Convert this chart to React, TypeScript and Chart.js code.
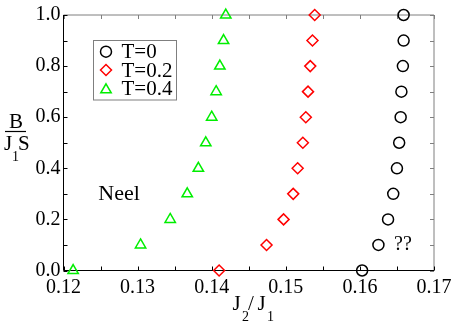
import React, { useEffect, useRef } from "react";
import { Chart, registerables } from "chart.js";

Chart.register(...registerables);

const yValues = [0, 0.1, 0.2, 0.3, 0.4, 0.5, 0.6, 0.7, 0.8, 0.9, 1.0];
const t0X = [0.1603, 0.1625, 0.1638, 0.1645, 0.165, 0.1653, 0.1655, 0.1656, 0.1658, 0.1659, 0.1659];
const t02X = [0.141, 0.1474, 0.1497, 0.151, 0.1516, 0.1523, 0.1527, 0.153, 0.1533, 0.1536, 0.1539];
const t04X = [0.1213, 0.1304, 0.1344, 0.1367, 0.1382, 0.1392, 0.14, 0.1406, 0.1411, 0.1416, 0.1419];

const seriesLabels = ["T=0", "T=0.2", "T=0.4"];
const seriesColors = ["#000000", "#ff0000", "#00ee00"];
const seriesStyles = ["circle", "rectRot", "triangle"];
const seriesRadius = [5.5, 5.5, 6];

const xTicks = [0.12, 0.13, 0.14, 0.15, 0.16, 0.17];
const yTicks = [0.0, 0.2, 0.4, 0.6, 0.8, 1.0];

const annotations = [
  { text: "Neel", x: 0.1275, y: 0.3, size: 22 },
  { text: "??", x: 0.1658, y: 0.1, size: 20 },
];

const SERIF = "'Liberation Serif', 'Times New Roman', serif";

function drawMarker(ctx: CanvasRenderingContext2D, style: string, x: number, y: number, r: number) {
  ctx.beginPath();
  if (style === "circle") {
    ctx.arc(x, y, r, 0, Math.PI * 2);
  } else if (style === "rectRot") {
    ctx.moveTo(x - r, y);
    ctx.lineTo(x, y - r);
    ctx.lineTo(x + r, y);
    ctx.lineTo(x, y + r);
    ctx.closePath();
  } else {
    const h = r * 1.5;
    const w = r * Math.sqrt(3);
    ctx.moveTo(x, y - h / 2);
    ctx.lineTo(x + w / 2, y + h / 2);
    ctx.lineTo(x - w / 2, y + h / 2);
    ctx.closePath();
  }
  ctx.stroke();
}

const framePlugin = {
  id: "frame",
  beforeDatasetsDraw(chart: any) {
    const { ctx, chartArea } = chart;
    const { left, right, top, bottom } = chartArea;
    const xs = chart.scales.x;
    const ys = chart.scales.y;
    ctx.save();
    ctx.lineWidth = 1;
    ctx.strokeStyle = "#7f7f7f";
    ctx.beginPath();
    ctx.moveTo(left, top);
    ctx.lineTo(right, top);
    ctx.lineTo(right, bottom);
    ctx.stroke();
    ctx.beginPath();
    for (let v = 0.12; v <= 0.17001; v += 0.005) {
      const px = Math.round(xs.getPixelForValue(v)) + 0.5;
      ctx.moveTo(px, top);
      ctx.lineTo(px, top + 4);
    }
    for (let v = 0; v <= 1.0001; v += 0.1) {
      const py = Math.round(ys.getPixelForValue(v)) + 0.5;
      ctx.moveTo(right, py);
      ctx.lineTo(right - 4, py);
    }
    ctx.stroke();
    ctx.strokeStyle = "#000000";
    ctx.beginPath();
    ctx.moveTo(left, top);
    ctx.lineTo(left, bottom);
    ctx.lineTo(right, bottom);
    ctx.stroke();
    ctx.beginPath();
    for (let v = 0.12; v <= 0.17001; v += 0.005) {
      const px = Math.round(xs.getPixelForValue(v)) + 0.5;
      ctx.moveTo(px, bottom);
      ctx.lineTo(px, bottom - 4);
    }
    for (let v = 0; v <= 1.0001; v += 0.1) {
      const py = Math.round(ys.getPixelForValue(v)) + 0.5;
      ctx.moveTo(left, py);
      ctx.lineTo(left + 4, py);
    }
    ctx.stroke();
    ctx.restore();
  },
  afterDraw(chart: any) {
    const { ctx } = chart;
    const xs = chart.scales.x;
    const ys = chart.scales.y;
    ctx.save();
    ctx.strokeStyle = "#7f7f7f";
    ctx.lineWidth = 1;
    ctx.strokeRect(93.5, 40.5, 83, 59.5);
    const rows = [51.7, 70, 88.3];
    for (let i = 0; i < 3; i++) {
      ctx.strokeStyle = seriesColors[i];
      ctx.lineWidth = 1.5;
      drawMarker(ctx, seriesStyles[i], 106, rows[i], seriesRadius[i]);
      ctx.fillStyle = "#000";
      ctx.font = `21px ${SERIF}`;
      ctx.textAlign = "left";
      ctx.textBaseline = "middle";
      ctx.fillText(seriesLabels[i], 121.5, rows[i] + 1);
    }
    for (const a of annotations) {
      ctx.font = `${a.size}px ${SERIF}`;
      ctx.textAlign = "center";
      ctx.textBaseline = "middle";
      ctx.fillStyle = "#000";
      ctx.fillText(a.text, xs.getPixelForValue(a.x), ys.getPixelForValue(a.y));
    }
    ctx.textAlign = "left";
    ctx.textBaseline = "alphabetic";
    ctx.font = `21px ${SERIF}`;
    ctx.fillText("B", 9, 128);
    ctx.strokeStyle = "#000";
    ctx.lineWidth = 1.2;
    ctx.beginPath();
    ctx.moveTo(5, 131.5);
    ctx.lineTo(26, 131.5);
    ctx.stroke();
    ctx.fillText("J", 4, 150);
    ctx.font = `14px ${SERIF}`;
    ctx.fillText("1", 12, 161);
    ctx.font = `21px ${SERIF}`;
    ctx.fillText("S", 18, 150);
    ctx.fillText("J", 232.5, 310);
    ctx.font = `14px ${SERIF}`;
    ctx.fillText("2", 242, 321);
    ctx.font = `21px ${SERIF}`;
    ctx.fillText("/", 248, 310);
    ctx.fillText("J", 257.5, 310);
    ctx.font = `14px ${SERIF}`;
    ctx.fillText("1", 267, 321);
    ctx.restore();
  },
};

export default function App() {
  const canvasRef = useRef<HTMLCanvasElement | null>(null);
  useEffect(() => {
    document.body.style.margin = "0";
    const canvas = canvasRef.current;
    if (!canvas) return;
    const xsList = [t0X, t02X, t04X];
    const chart = new Chart(canvas, {
      type: "scatter",
      data: {
        datasets: xsList.map((xs, i) => ({
          label: seriesLabels[i],
          data: xs.map((x, j) => ({ x, y: yValues[j] })),
          pointStyle: seriesStyles[i] as any,
          pointRadius: seriesRadius[i],
          pointBorderWidth: 1.5,
          borderColor: seriesColors[i],
          pointBorderColor: seriesColors[i],
          backgroundColor: "rgba(0,0,0,0)",
          pointBackgroundColor: "rgba(0,0,0,0)",
          clip: false as any,
        })),
      },
      options: {
        responsive: false,
        animation: false,
        layout: { padding: { top: 14, right: 23, left: 0, bottom: 0 } },
        plugins: { legend: { display: false }, tooltip: { enabled: false } },
        scales: {
          x: {
            type: "linear",
            min: 0.12,
            max: 0.17,
            afterBuildTicks: (scale: any) => {
              scale.ticks = xTicks.map((v) => ({ value: v }));
            },
            afterFit: (scale: any) => {
              scale.height = 53.5;
            },
            grid: { display: false, drawTicks: false },
            border: { display: false },
            ticks: {
              padding: 5,
              color: "#000",
              font: { family: SERIF, size: 20 },
              callback: (v: any) => Number(v).toFixed(2),
            },
          },
          y: {
            type: "linear",
            min: 0,
            max: 1,
            afterBuildTicks: (scale: any) => {
              scale.ticks = yTicks.map((v) => ({ value: v }));
            },
            afterFit: (scale: any) => {
              scale.width = 63.5;
            },
            grid: { display: false, drawTicks: false },
            border: { display: false },
            ticks: {
              padding: 3,
              color: "#000",
              font: { family: SERIF, size: 20 },
              callback: (v: any) => Number(v).toFixed(1),
            },
          },
        },
      },
      plugins: [framePlugin],
    });
    return () => chart.destroy();
  }, []);
  return <canvas ref={canvasRef} width={457} height={324} style={{ display: "block" }} />;
}
